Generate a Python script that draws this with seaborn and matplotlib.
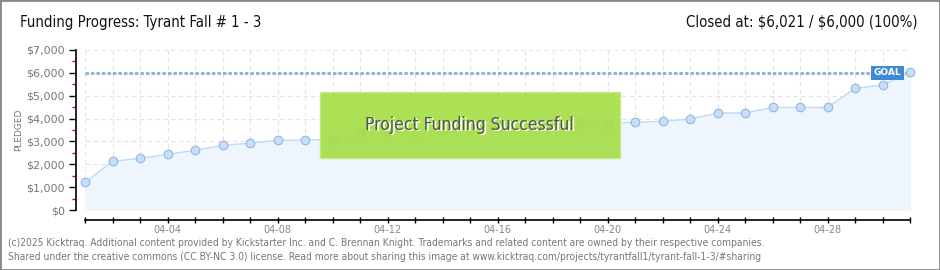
import matplotlib
matplotlib.use("Agg")
import matplotlib.pyplot as plt
import seaborn as sns
import pandas as pd
import numpy as np
from matplotlib.ticker import FixedLocator, MultipleLocator, FuncFormatter

# ---- data ----
dates = ["04-01", "04-02", "04-03", "04-04", "04-05", "04-06", "04-07", "04-08",
         "04-09", "04-10", "04-11", "04-12", "04-13", "04-14", "04-15", "04-16",
         "04-17", "04-18", "04-19", "04-20", "04-21", "04-22", "04-23", "04-24",
         "04-25", "04-26", "04-27", "04-28", "04-29", "04-30", "05-01"]
pledged = [1210, 2130, 2260, 2435, 2610, 2830, 2920, 3050,
           3060, 3090, 3400, 3420, 3440, 3500, 3560, 3620,
           3700, 3760, 3790, 3790, 3840, 3880, 3980, 4240,
           4240, 4490, 4490, 4490, 5320, 5470, 6021]
goal = 6000
tick_labels = ["04-04", "04-08", "04-12", "04-16", "04-20", "04-24", "04-28"]
y_ticks = [0, 1000, 2000, 3000, 4000, 5000, 6000, 7000]

df = pd.DataFrame({"day": np.arange(len(dates)), "date": dates, "pledged": pledged})

sns.set_theme(style="white")
plt.rcParams['font.family'] = ['DejaVu Sans']

fig = plt.figure(figsize=(9.4, 2.7), dpi=100)
# outer border
fig.patches.append(matplotlib.patches.Rectangle((0, 0), 1, 1, transform=fig.transFigure,
                   fill=False, edgecolor="#888888", linewidth=2))
ax = fig.add_axes([85/940, 60/270, 825/940, 160/270])

ax.fill_between(df["day"], df["pledged"], 0, color="#eef5fd", zorder=1)
sns.lineplot(data=df, x="day", y="pledged", ax=ax, color="#c0daf5", linewidth=1,
             marker="o", markersize=6.2, markerfacecolor="#c6def9",
             markeredgecolor="#94b6de", markeredgewidth=0.8, zorder=3, clip_on=False)
ax.axhline(goal, color="#8fb3de", linewidth=2.2, linestyle=(0, (1.1, 0.7)), zorder=2)

ax.set_xlim(0, len(dates) - 1)
ax.set_ylim(0, 7000)

# grid
ax.set_axisbelow(True)
for d in df["day"]:
    ax.axvline(d, color="#e3e3e3", linewidth=0.8, linestyle=(0, (4, 3)), zorder=0)
for yv in y_ticks:
    ax.axhline(yv, color="#e3e3e3", linewidth=0.8, linestyle=(0, (4, 3)), zorder=0)

# spines
for s in ["top", "right"]:
    ax.spines[s].set_visible(False)
ax.spines['left'].set_position(('outward', 6.5))
ax.spines['bottom'].set_position(('outward', 7.2))
ax.spines['left'].set_color("black")
ax.spines['bottom'].set_color("black")
ax.spines['left'].set_linewidth(1.2)
ax.spines['bottom'].set_linewidth(1.2)

# x ticks
major_pos = [dates.index(t) for t in tick_labels]
ax.xaxis.set_major_locator(FixedLocator(major_pos))
ax.xaxis.set_minor_locator(FixedLocator(list(df["day"])))
ax.set_xticklabels(tick_labels)
ax.tick_params(axis="x", which="both", direction="inout", length=5, width=1,
               color="black", labelsize=7, labelcolor="#888888", pad=1, bottom=True)

# y ticks
ax.set_yticks(y_ticks)
ax.yaxis.set_major_formatter(FuncFormatter(lambda v, p: "\\${:,.0f}".format(v)))
ax.yaxis.set_minor_locator(MultipleLocator(500))
ax.tick_params(axis="y", which="major", direction="out", length=5, width=1,
               color="black", labelsize=8, labelcolor="#777777", pad=3, left=True)
ax.tick_params(axis="y", which="minor", direction="out", length=3, width=1,
               color="#dd0000", left=True)
ax.set_xlabel("")
ax.set_ylabel("PLEDGED", fontsize=6.5, color="#777777")
ax.yaxis.set_label_coords(-0.075, 0.5)

# goal label
ax.text(len(dates) - 1.33, goal, "GOAL", ha="right", va="center", fontsize=6.5,
        color="white", fontweight="bold", zorder=6,
        bbox=dict(boxstyle="square,pad=0.3", facecolor="#3d8ad6", edgecolor="none"))

# success banner
ax.add_patch(matplotlib.patches.Rectangle((235/825, 0.325), 300/825, 0.41,
             transform=ax.transAxes, facecolor="#a6de48", edgecolor="#c4ea80",
             linewidth=1, alpha=0.93, zorder=5))
ax.text(385/825 + 0.001, 0.522, "Project Funding Successful", transform=ax.transAxes,
        ha="center", va="center", fontsize=12.5, color="white", fontstretch="condensed",
        zorder=6)
ax.text(385/825 - 0.001, 0.53, "Project Funding Successful", transform=ax.transAxes,
        ha="center", va="center", fontsize=12.5, color="#555555", fontstretch="condensed",
        zorder=7)

# titles
fig.text(20/940, 1 - 22/270, "Funding Progress: Tyrant Fall # 1 - 3", ha="left", va="center",
         fontsize=10.7, color="#111111", fontstretch="condensed")
fig.text(918/940, 1 - 22/270, "Closed at: \\$6,021 / \\$6,000 (100%)", ha="right", va="center",
         fontsize=10.7, color="#111111", fontstretch="condensed")

# footer
fig.text(8/940, 1 - 243/270,
         "(c)2025 Kicktraq. Additional content provided by Kickstarter Inc. and C. Brennan Knight. "
         "Trademarks and related content are owned by their respective companies.",
         ha="left", va="center", fontsize=7.4, color="#777777", fontstretch="condensed")
fig.text(8/940, 1 - 257/270,
         "Shared under the creative commons (CC BY-NC 3.0) license. Read more about sharing this "
         "image at www.kicktraq.com/projects/tyrantfall1/tyrant-fall-1-3/#sharing",
         ha="left", va="center", fontsize=7.4, color="#777777", fontstretch="condensed")

fig.savefig("out.png", dpi=100)
